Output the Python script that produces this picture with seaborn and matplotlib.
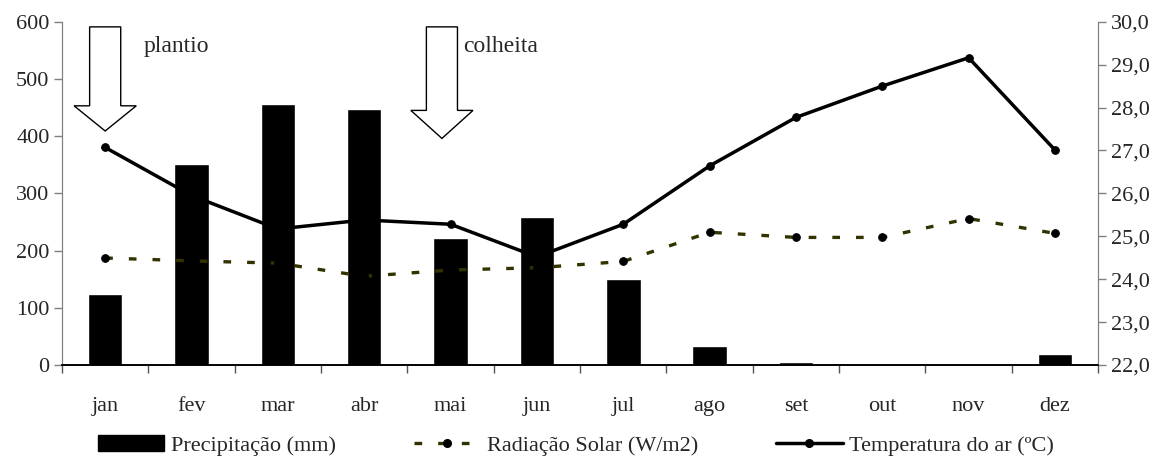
import numpy as np
import pandas as pd
import seaborn as sns
import matplotlib.pyplot as plt
from matplotlib.patches import FancyArrow, Patch
from matplotlib.lines import Line2D
from matplotlib.ticker import FuncFormatter, FixedLocator

meses = ['jan', 'fev', 'mar', 'abr', 'mai', 'jun', 'jul', 'ago', 'set', 'out', 'nov', 'dez']
precipitacao = [124, 352, 456, 447, 222, 258, 150, 34, 5, 0, 0, 20]
radiacao = [187, 182, 178, 155, 166, 170, 181, 232, 223, 223, 256, 230]
temperatura = [27.07, 25.95, 25.17, 25.38, 25.28, 24.52, 25.28, 26.64, 27.77, 28.50, 29.16, 27.01]

df = pd.DataFrame({'mes': meses, 'pos': np.arange(len(meses)),
                   'prec': precipitacao, 'rad': radiacao, 'temp': temperatura})

sns.set_style('white')
plt.rcParams['font.family'] = ['Liberation Serif', 'DejaVu Serif']
plt.rcParams['font.size'] = 16

fig = plt.figure(figsize=(11.59, 4.70), dpi=100)
ax = fig.add_axes([0.0535, 0.2234, 0.894, 0.7304])

sns.barplot(x='pos', y='prec', data=df, color='black', width=0.4, ax=ax,
            saturation=1, native_scale=True)
sns.lineplot(x='pos', y='rad', data=df, ax=ax, color='#333300', lw=2.4,
             linestyle=(0, (2.3, 4.8)), marker='o', markersize=5.5,
             markerfacecolor='black', markeredgecolor='black', zorder=3)

ax2 = ax.twinx()
sns.lineplot(x='pos', y='temp', data=df, ax=ax2, color='black', lw=2.5,
             marker='o', markersize=5.5, markeredgecolor='black')

ax.set_xlim(-0.5, 11.5)
ax.set_ylim(0, 600)
ax2.set_ylim(22, 30)
ax.set_yticks(range(0, 601, 100))
ax2.set_yticks(range(22, 31))
ax2.yaxis.set_major_formatter(FuncFormatter(lambda v, p: f'{v:.1f}'.replace('.', ',')))

ax.set_xticks(df['pos'])
ax.set_xticklabels(meses)
ax.xaxis.set_minor_locator(FixedLocator(np.arange(-0.5, 12, 1)))
ax.tick_params(axis='x', which='major', length=0, pad=23, labelsize=16)
ax.tick_params(axis='x', which='minor', length=6, width=1, color='#555555', bottom=True)
ax.tick_params(axis='y', length=6, width=1, color='#808080', labelsize=16, left=True, pad=3)
ax2.tick_params(axis='y', length=6, width=1, color='#808080', labelsize=16, right=True, pad=3)
ax.set_xlabel('')
ax.set_ylabel('')
ax2.set_ylabel('')

for a in (ax, ax2):
    a.spines['top'].set_visible(False)
    a.spines['left'].set_color('#808080')
    a.spines['right'].set_color('#808080')
    a.spines['bottom'].set_color('black')
    a.spines['bottom'].set_linewidth(1.2)

# setas de plantio e colheita
for xc, ytip, ybase in [(0.0, 409, 453), (3.9, 396, 445)]:
    arr = FancyArrow(xc, 591, 0, ytip - 591, width=0.36, head_width=0.72,
                     head_length=ybase - ytip, length_includes_head=True,
                     facecolor='white', edgecolor='black', lw=1, zorder=5)
    ax.add_patch(arr)
ax.text(0.44, 556, 'plantio', fontsize=17, va='center', ha='left')
ax.text(4.15, 556, 'colheita', fontsize=17, va='center', ha='left')

handles = [Patch(facecolor='black', edgecolor='black'),
           Line2D([], [], color='#333300', lw=2.4, linestyle=(0, (2.3, 4.8)), marker='o',
                  markersize=5.5, markerfacecolor='black', markeredgecolor='black'),
           Line2D([], [], color='black', lw=2.5, marker='o', markersize=5.5)]
labels = ['Precipitação (mm)', 'Radiação Solar (W/m2)', 'Temperatura do ar (ºC)']
fig.legend(handles, labels, loc='center', bbox_to_anchor=(0.497, 0.053), ncol=3,
           frameon=False, handlelength=3.0, handleheight=0.75, columnspacing=3.5,
           handletextpad=0.3, fontsize=16)

fig.savefig('out.png', dpi=100)
